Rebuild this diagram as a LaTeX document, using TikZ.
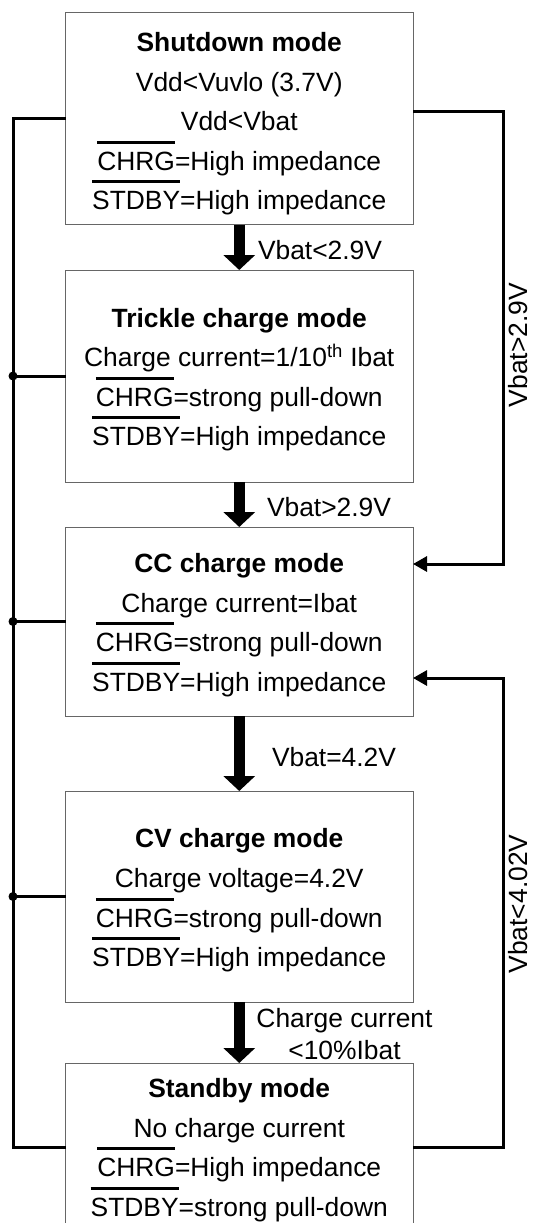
\documentclass[tikz,border=0pt]{standalone}
\usepackage{fontspec}
\setmainfont{Liberation Sans}
\usetikzlibrary{arrows.meta}
\newsavebox\ovlbox
\newcommand\ovl[1]{\sbox\ovlbox{#1}\rlap{\raisebox{\dimexpr\ht\ovlbox+8pt\relax}{\rule{\wd\ovlbox}{2.6pt}}}\usebox\ovlbox}
\begin{document}
\begin{tikzpicture}[x=1pt,y=-1pt,
  box/.style={draw=black!60, line width=1pt, rectangle, minimum width=347.5pt, inner sep=0pt, outer sep=0pt},
  txt/.style={inner sep=0pt, outer sep=0pt, anchor=base, font=\fontsize{26.4}{39.5}\selectfont},
  ttl/.style={txt, font=\fontsize{26.4}{39.5}\selectfont\bfseries},
  conn/.style={line width=3pt, draw=black},
  tip/.style={-{Triangle[width=15pt,length=14pt]}},
  bigarrow/.style={line width=10.5pt, draw=black, -{Triangle[width=31pt,length=15pt]}},
  dot/.style={circle, fill=black, inner sep=0pt, outer sep=0pt, minimum size=9pt}]
\useasboundingbox (0,0) rectangle (533,1223);
\clip (0,0) rectangle (533,1223);

% boxes
\node[box, minimum height=211.5pt] (b1) at (239.25,118.75) {};
\node[box, minimum height=212pt] (b2) at (239.25,376) {};
\node[box, minimum height=189pt] (b3) at (239.25,621.5) {};
\node[box, minimum height=211pt] (b4) at (239.25,896.5) {};
\node[box, minimum height=168pt] (b5) at (239.25,1147) {};

% box 1 text
\node[ttl] (t11) at (239.25,51.5) {Shutdown mode};
\node[txt] (t12) at (239.25,91) {Vdd<Vuvlo (3.7V)};
\node[txt] (t13) at (239.25,130.5) {Vdd<Vbat};
\node[txt] (t14) at (239.25,170) {\ovl{CHRG}=High impedance};
\node[txt] (t15) at (239.25,209.5) {\ovl{STDBY}=High impedance};

% box 2 text
\node[ttl] (t21) at (239.25,327) {Trickle charge mode};
\node[txt] (t22) at (239.25,366.5) {Charge current=1/10\textsuperscript{th} Ibat};
\node[txt] (t23) at (239.25,406) {\ovl{CHRG}=strong pull-down};
\node[txt] (t24) at (239.25,445.5) {\ovl{STDBY}=High impedance};

% box 3 text
\node[ttl] (t31) at (239.25,572.5) {CC charge mode};
\node[txt] (t32) at (239.25,612) {Charge current=Ibat};
\node[txt] (t33) at (239.25,651.5) {\ovl{CHRG}=strong pull-down};
\node[txt] (t34) at (239.25,691) {\ovl{STDBY}=High impedance};

% box 4 text
\node[ttl] (t41) at (239.25,847.5) {CV charge mode};
\node[txt] (t42) at (239.25,887.5) {Charge voltage=4.2V};
\node[txt] (t43) at (239.25,927) {\ovl{CHRG}=strong pull-down};
\node[txt] (t44) at (239.25,966.5) {\ovl{STDBY}=High impedance};

% box 5 text
\node[ttl] (t51) at (239.25,1097.5) {Standby mode};
\node[txt] (t52) at (239.25,1137) {No charge current};
\node[txt] (t53) at (239.25,1176.5) {\ovl{CHRG}=High impedance};
\node[txt] (t54) at (239.25,1216) {\ovl{STDBY}=strong pull-down};

% thick arrows
\draw[bigarrow] (b1.south) -- (b2.north);
\draw[bigarrow] (b2.south) -- (b3.north);
\draw[bigarrow] (b3.south) -- (b4.north);
\draw[bigarrow] (b4.south) -- (b5.north);

% arrow labels
\node[txt, anchor=base west] (l1) at (258,259.5) {Vbat<2.9V};
\node[txt, anchor=base west] (l2) at (267,516) {Vbat>2.9V};
\node[txt, anchor=base west] (l3) at (272,766) {Vbat=4.2V};
\node[txt, anchor=base] (l4a) at (344.5,1027.5) {Charge current};
\node[txt, anchor=base] (l4b) at (344.5,1059) {<10\%Ibat};

% left bus
\coordinate (lA) at (13,118.75);
\coordinate (lE) at (13,1147);
\draw[conn] (b1.west) -- (lA) -- (lE) -- (b5.west);
\node[dot] (d2) at (b2.west -| lA) {};
\node[dot] (d3) at (b3.west -| lA) {};
\node[dot] (d4) at (b4.west -| lA) {};
\draw[conn] (b2.west) -- (d2.center);
\draw[conn] (b3.west) -- (d3.center);
\draw[conn] (b4.west) -- (d4.center);

% right connectors
\coordinate (rA) at (503,111);
\coordinate (rB) at (503,564);
\coordinate (rC) at (503,678);
\coordinate (rD) at (503,1147);
\draw[conn, tip] (b1.east |- rA) -- (rA) -- (rB) -- (b3.east |- rB);
\draw[conn, tip] (b5.east) -- (rD) -- (rC) -- (b3.east |- rC);
\node[txt, rotate=90, anchor=base] (r1) at (527.5,345) {Vbat>2.9V};
\node[txt, rotate=90, anchor=base] (r2) at (527.5,904) {Vbat<4.02V};
\end{tikzpicture}
\end{document}
